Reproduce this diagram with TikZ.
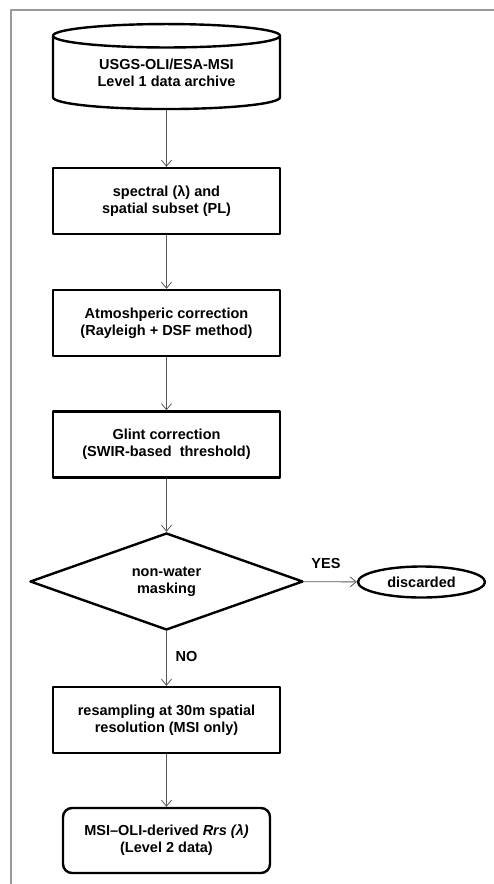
\documentclass[tikz,border=0pt]{standalone}
\usepackage{fontspec}
\setmainfont{Liberation Sans}
\usetikzlibrary{arrows.meta}
\usetikzlibrary{shapes.geometric}

\begin{document}
\begin{tikzpicture}[line cap=round,line join=round,>={Straight Barb[length=6pt,width=10pt]},x=1pt,y=-1pt,
  font=\bfseries\fontsize{14.5}{17}\selectfont,
  stepbox/.style={draw,line width=2.4pt,minimum width=227pt,minimum height=66pt,inner sep=0pt,align=center},
  flowline/.style={->,line width=0.8pt,color=black!65}]
\useasboundingbox (0,0) rectangle (494,884);
\draw [line width=1.5pt,color=black!40] (11,884)-- (11,10)-- (494,10);
\node [draw,cylinder,shape border rotate=90,aspect=0.17,line width=2.4pt,minimum width=227pt,minimum height=85pt,inner sep=0pt,align=center] (archive) at (166.5,73) {USGS-OLI/ESA-MSI\\Level 1 data archive};
\node [stepbox] (subset) at (166.5,201) {spectral (λ) and\\spatial subset (PL)};
\node [stepbox] (atmcorr) at (166.5,323) {Atmoshperic correction\\(Rayleigh + DSF method)};
\node [stepbox] (glint) at (166.5,444.5) {Glint correction\\(SWIR-based \ threshold)};
\node [draw,diamond,aspect=2.81,line width=2.4pt,minimum width=273pt,minimum height=97pt,inner sep=0pt,align=center] (mask) at (166.5,581.5) {non-water\\masking};
\node [draw,ellipse,line width=2.4pt,minimum width=127pt,minimum height=31pt,inner sep=0pt] (discard) at (421.5,582) {discarded};
\node [stepbox] (resample) at (166.5,720) {resampling at 30m spatial\\resolution (MSI only)};
\node [stepbox,minimum width=207pt,minimum height=65pt,rounded corners=9pt] (rrs) at (166.5,840.5) {MSI–OLI-derived \textit{Rrs (λ)}\\(Level 2 data)};
\draw [flowline] (archive)-- (subset);
\draw [flowline] (subset)-- (atmcorr);
\draw [flowline] (atmcorr)-- (glint);
\draw [flowline] (glint)-- (mask);
\draw [flowline] (mask)-- (discard);
\draw [flowline] (mask)-- (resample);
\draw [flowline] (resample)-- (rrs);
\node (yes) at (326,563) {YES};
\node (no) at (186.5,656) {NO};
\end{tikzpicture}
\end{document}
